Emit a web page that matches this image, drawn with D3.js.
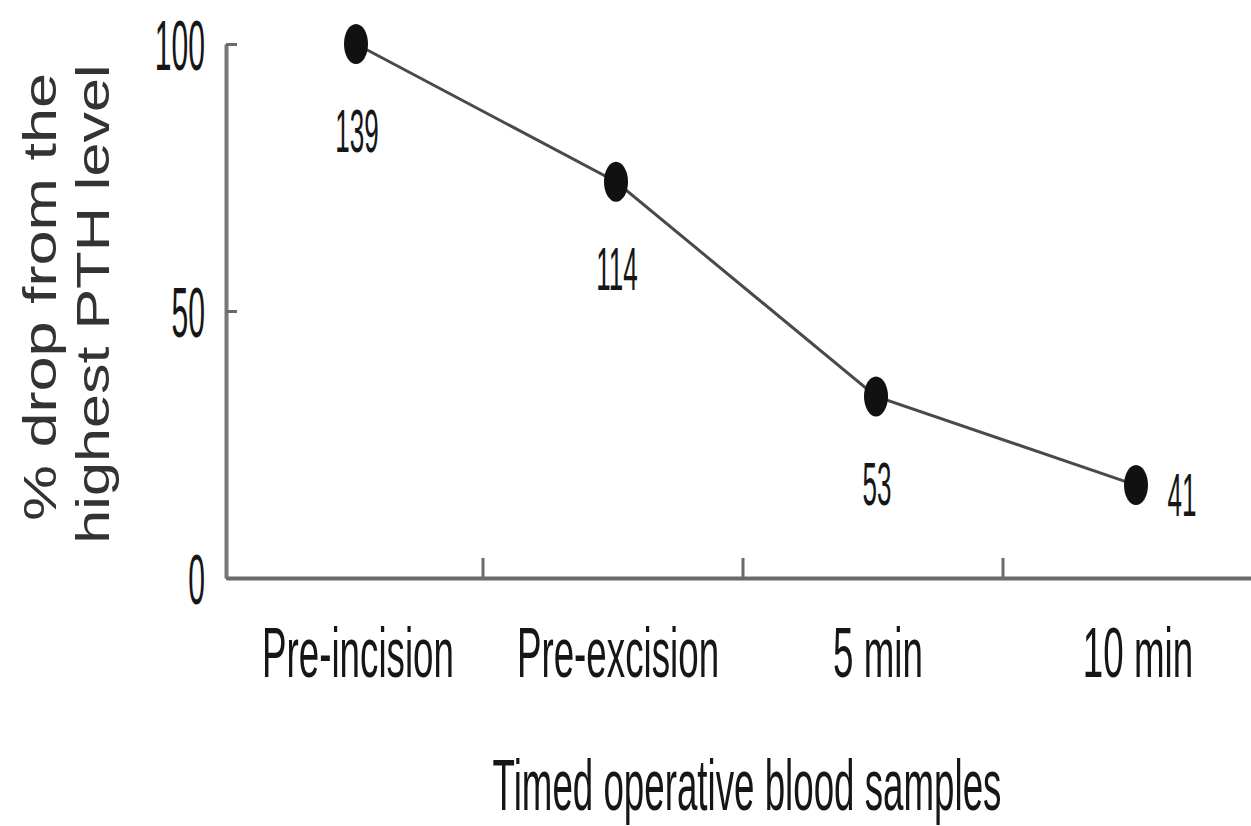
<!DOCTYPE html>
<html>
  <head>
    <title>PTH drop</title>
    <style>
      body {margin:0; background:#fff;}
      svg {display:block; background:#fff;}
      text {font-family:"Liberation Sans", Arial, sans-serif; fill:#161616;}
      .axis path, .axis line {fill:none; stroke:#6a6a6a;}
      .axis path.domain {stroke-width:4px;}
      .axis line {stroke-width:3px;}
      .ytitle {font-size:46px; fill:#333;}
      .cond {font-size:72px;}
      .tick text {font-size:70px;}
      .val {font-size:62px;}
    </style>
    <script src="https://d3js.org/d3.v7.min.js"></script>
  </head>
  <body>
    <svg id="chart" width="1251" height="826"></svg>
    <script>
      // values
      var categories = ["Pre-incision", "Pre-excision", "5 min", "10 min"];
      var pctDrop    = [100, 74.2, 34, 17.4];
      var pthLevels  = [139, 114, 53, 41];
      var yTicks     = [0, 50, 100];
      var yTitle     = ["% drop from the", "highest PTH level"];

      var W = 1251, H = 826;
      var margin = {top: 44, right: -15, bottom: 248, left: 226};
      var w = W - margin.left - margin.right;
      var h = H - margin.top - margin.bottom;

      var svg = d3.select("#chart");
      var g = svg.append("g").attr("transform", "translate(" + margin.left + "," + margin.top + ")");

      var x = d3.scaleBand().domain(categories).range([0, w]);
      var y = d3.scaleLinear().domain([0, 100]).range([h, 0]);

      // y axis, inward ticks, condensed labels
      var yAxis = g.append("g").attr("class", "axis")
        .call(d3.axisLeft(y).tickValues(yTicks).tickSize(-11).tickSizeOuter(0).tickPadding(0));
      yAxis.select(".domain").style("stroke", "#777").style("stroke-width", "4px");
      yAxis.selectAll(".tick text")
        .attr("x", 0).attr("dy", "0.36em")
        .attr("transform", "translate(-21,0) scale(0.43,1)");

      // x axis: labels at band centres, ticks on band boundaries
      var xAxis = g.append("g").attr("class", "axis")
        .attr("transform", "translate(0," + h + ")")
        .call(d3.axisBottom(x).tickSize(0).tickSizeOuter(0).tickPadding(0));
      xAxis.selectAll(".tick text")
        .attr("class", "cond")
        .attr("y", 0).attr("dy", 0)
        .attr("transform", "translate(2,99) scale(0.525,1)");

      g.append("g").attr("class", "axis")
        .selectAll("line")
        .data(categories.slice(0, -1))
        .enter().append("line")
        .attr("x1", function(d) { return x(d) + x.bandwidth() - 3; })
        .attr("x2", function(d) { return x(d) + x.bandwidth() - 3; })
        .attr("y1", h - 20).attr("y2", h);

      // line + markers
      var pts = categories.map(function(c, i) { return {c: c, v: pctDrop[i], lab: pthLevels[i]}; });
      var line = d3.line()
        .x(function(d) { return x(d.c) + x.bandwidth() / 2; })
        .y(function(d) { return y(d.v); });

      g.append("path").datum(pts)
        .attr("d", line)
        .style("fill", "none").style("stroke", "#4a4a4a").style("stroke-width", "3px");

      g.selectAll("ellipse").data(pts).enter().append("ellipse")
        .attr("cx", function(d) { return x(d.c) + x.bandwidth() / 2; })
        .attr("cy", function(d) { return y(d.v); })
        .attr("rx", 12).attr("ry", 20)
        .style("fill", "#111");

      // PTH values: below the point, last one to the right
      g.selectAll("g.val").data(pts).enter().append("g")
        .attr("transform", function(d, i) {
          var cx = x(d.c) + x.bandwidth() / 2, cy = y(d.v);
          if (i == pts.length - 1) return "translate(" + (cx + 46) + "," + (cy + 9) + ")";
          return "translate(" + (cx + 1) + "," + (cy + 86) + ")";
        })
        .append("text").attr("class", "val")
        .attr("text-anchor", "middle").attr("dy", "0.36em")
        .attr("transform", "scale(0.42,1)")
        .text(function(d) { return d.lab; });

      // axis titles
      svg.append("text").attr("class", "cond")
        .attr("text-anchor", "middle")
        .attr("transform", "translate(747,810) scale(0.51,1)")
        .text("Timed operative blood samples");

      // y title is stretched along its length, like the rest of the figure
      svg.selectAll("text.ytitle").data(yTitle).enter().append("text")
        .attr("class", "ytitle")
        .attr("text-anchor", "middle")
        .attr("transform", function(d, i) {
          return i == 0 ? "translate(56,297) rotate(-90) scale(1.37,1)"
                        : "translate(109,304) rotate(-90) scale(1.33,1)";
        })
        .text(function(d) { return d; });
    </script>
  </body>
</html>
